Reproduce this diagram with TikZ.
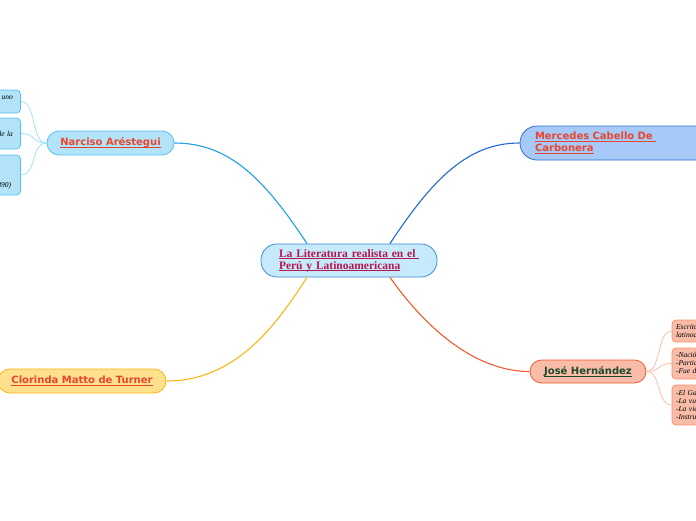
\documentclass[tikz,border=0pt]{standalone}
\usepackage{fontspec}
\setmainfont{Liberation Serif}
\newfontfamily\sansb{DejaVu Sans}
\newcommand\myul[1]{\leavevmode\setbox0\hbox{#1}\rlap{\rule[-1.9pt]{\wd0}{0.9pt}}\box0}
\definecolor{cfill}{HTML}{C6EAFB}
\definecolor{cdraw}{HTML}{3B8ED4}
\definecolor{ctext}{HTML}{B5174B}
\definecolor{redtext}{HTML}{E8452C}
\definecolor{nfill}{HTML}{B3E3F9}
\definecolor{ndraw}{HTML}{55C1F0}
\definecolor{nline}{HTML}{1DA1E2}
\definecolor{lline}{HTML}{8ED8F8}
\definecolor{mfill}{HTML}{A6C9F7}
\definecolor{mdraw}{HTML}{2B6FD4}
\definecolor{mline}{HTML}{1F6BD0}
\definecolor{yfill}{HTML}{FFE08C}
\definecolor{ydraw}{HTML}{FBB614}
\definecolor{jfill}{HTML}{F8BCA8}
\definecolor{jdraw}{HTML}{F25A2B}
\definecolor{jtext}{HTML}{1A4A2C}
\definecolor{rdraw}{HTML}{F7936E}
\definecolor{rline}{HTML}{F9AE93}
\begin{document}
\begin{tikzpicture}[x=1pt,y=-1pt,
  box/.style={draw, line width=0.8pt, inner sep=0pt},
  branchfont/.style={font=\sansb\bfseries\fontsize{10}{12}\selectfont},
  leaffont/.style={font=\itshape\fontsize{7.5}{8}\selectfont},
  mainline/.style={line width=1.1pt},
  leafline/.style={line width=0.6pt}]
\useasboundingbox (0,0) rectangle (696,520);

% central
\node[box, fill=cfill, draw=cdraw, rounded corners=16pt, minimum width=176pt, minimum height=33pt,
  text width=140pt, align=left, text=ctext, font=\bfseries\fontsize{11.5}{12}\selectfont]
  (central) at (349,260.5) {\myul{La Literatura realista en el }\\\myul{Perú y Latinoamericana}};

% branches
\node[box, fill=nfill, draw=ndraw, rounded corners=12pt, minimum width=127pt, minimum height=24pt,
  text=redtext, branchfont] (narciso) at (110.5,143) {\myul{Narciso Aréstegui}};
\node[box, fill=mfill, draw=mdraw, rounded corners=17pt, minimum width=200pt, minimum height=34pt,
  text width=170pt, align=left, text=redtext, branchfont] (mercedes) at (620,143)
  {\myul{Mercedes Cabello De }\\\myul{Carbonera}};
\node[box, fill=yfill, draw=ydraw, rounded corners=12pt, minimum width=168pt, minimum height=24pt,
  text=redtext, branchfont] (clorinda) at (82,381) {\myul{Clorinda Matto de Turner}};
\node[box, fill=jfill, draw=jdraw, rounded corners=11.5pt, minimum width=116pt, minimum height=23pt,
  text=jtext, branchfont] (jose) at (588,371.5) {\myul{José Hernández}};

% left leaves
\node[box, fill=nfill, draw=ndraw, rounded corners=4pt, minimum width=121pt, minimum height=23pt,
  text width=106pt, align=right, leaffont] (l1) at (-40,101.5) {uno\\\mbox{}};
\node[box, fill=nfill, draw=ndraw, rounded corners=4pt, minimum width=121pt, minimum height=31pt,
  text width=106pt, align=right, leaffont] (l2) at (-40,133.5) {de la};
\node[box, fill=nfill, draw=ndraw, rounded corners=4pt, minimum width=121pt, minimum height=40pt,
  text width=102pt, align=right, leaffont] (l3) at (-40,175) {\mbox{}\\\mbox{}\\\mbox{}\\[2.5pt](1890)};

% right leaves
\node[box, fill=jfill, draw=rdraw, rounded corners=4pt, minimum width=128pt, minimum height=22pt,
  text width=120pt, align=left, leaffont] (r1) at (736,331) {Escritor\\latinoamericano};
\node[box, fill=jfill, draw=rdraw, rounded corners=4pt, minimum width=128pt, minimum height=31pt,
  text width=120pt, align=left, leaffont] (r2) at (736,363.5) {-Nació en 1834\\-Participó en política\\-Fue diputado};
\node[box, fill=jfill, draw=rdraw, rounded corners=4pt, minimum width=128pt, minimum height=40pt,
  text width=120pt, align=left, leaffont] (r3) at (736,405)
  {-El Gaucho Martín Fierro\\-La vuelta de Martín Fierro\\-La vida del Chacho\\-Instrucción del estanciero};

% main connectors
\draw[mainline, draw=nline] ([xshift=-42pt]central.north) .. controls (265,180) and (230,143) .. (narciso.east);
\draw[mainline, draw=mline] ([xshift=41pt]central.north) .. controls (432,180) and (467,143) .. (mercedes.west);
\draw[mainline, draw=ydraw] ([xshift=-42pt]central.south) .. controls (275,327) and (235,381) .. (clorinda.east);
\draw[mainline, draw=jdraw] ([xshift=41pt]central.south) .. controls (420,320) and (470,371.5) .. (jose.west);

% leaf connectors
\foreach \l in {l1,l2,l3}
  \draw[leafline, draw=lline] (narciso.west) .. controls +(-16,0) and +(16,0) .. (\l.east);
\foreach \r in {r1,r2,r3}
  \draw[leafline, draw=rline] (jose.east) .. controls +(15,0) and +(-15,0) .. (\r.west);
\end{tikzpicture}
\end{document}
